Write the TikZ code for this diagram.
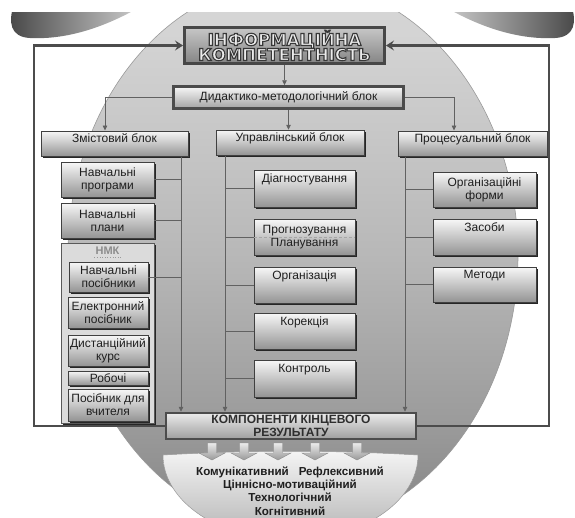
\documentclass[tikz,border=0pt]{standalone}
\usepackage{fontspec}
\setmainfont{Liberation Sans}
\newfontfamily\heavyfont{DejaVu Sans}
\usetikzlibrary{arrows.meta,shadows}
\pgfdeclareverticalshading{ellsh}{100bp}{color(0bp)=(black!74); color(10bp)=(black!64); color(20bp)=(black!53); color(35bp)=(black!39); color(50bp)=(black!28); color(70bp)=(black!17); color(100bp)=(black!10)}
\newcommand\outlinedtext[1]{\special{pdf:literal direct 2 Tr 1.1 w 0.22 G}#1\special{pdf:literal direct 0 Tr}}
\begin{document}
\begin{tikzpicture}[x=1pt,y=-1pt,
  ln/.style={draw=black!62, line width=0.8pt},
  arr/.style={ln, -{Triangle[length=5pt,width=4.5pt]}},
  fb/.style={draw=black!70, line width=2.2pt, -{Stealth[length=8pt,width=10pt,inset=3pt]}},
  blk/.style={rectangle, draw=black!75, line width=0.5pt, top color=black!3, bottom color=black!42,
     drop shadow={shadow xshift=1.8pt, shadow yshift=-1.8pt, fill=black!85, opacity=1},
     font=\fontsize{12}{13}\selectfont, align=center, inner sep=1pt, text=black!88},
  hdr/.style={blk, text height=9pt, text depth=11pt, minimum height=25pt},
  topt/.style={text height=9pt, text depth=21pt},
  lc/.style={blk, minimum width=93pt},
  nm/.style={blk, minimum width=80pt},
  mc/.style={blk, minimum width=101pt},
  rc/.style={blk, minimum width=103pt},
  darr/.pic={\path[draw=black!45, line width=0.4pt, top color=black!8, bottom color=black!40]
     (-4.5,0) -- (4.5,0) -- (4.5,10) -- (13,10) -- (0,17) -- (-13,10) -- (-4.5,10) -- cycle;}
]
\useasboundingbox (0,0) rectangle (575,517);
\begin{scope}
  \clip (0,12) rectangle (575,517);
  % big ellipse
  \path[shading=ellsh, draw=black!40, line width=0.6pt] (293,255) ellipse [x radius=225, y radius=275];
  % wings
  \path[left color=black!72, right color=black!18] (145,4) .. controls (110,25) and (70,40) .. (30,38)
     .. controls (10,37) and (8,22) .. (14,4) -- cycle;
  \path[left color=black!18, right color=black!72] (440,4) .. controls (475,25) and (515,40) .. (555,38)
     .. controls (575,37) and (577,22) .. (571,4) -- cycle;
  % bowl
  \path[draw=black!40, line width=0.5pt, top color=black!4, bottom color=black!30]
     (163,455) .. controls (250,450) and (331,450) .. (418,455)
     arc[start angle=0, end angle=180, x radius=127.5, y radius=85] -- cycle;
\end{scope}
% small arrows
\foreach \xx in {212,244,278,315,357} \pic at (\xx,443) {darr};

% nodes
\node[rectangle, draw=black!72, line width=3pt, top color=black!22, bottom color=black!48,
  minimum width=200pt, minimum height=36pt, inner sep=0pt, align=center,
  font=\heavyfont\bfseries\fontsize{16.5}{15}\selectfont, text=black!8]
  (ik) at (284.5,45.5) {\outlinedtext{ІНФОРМАЦІЙНА}\\\outlinedtext{КОМПЕТЕНТНІСТЬ}};
\node[rectangle, draw=black!70, line width=2.5pt, top color=black!3, bottom color=black!36,
  minimum width=230pt, minimum height=22pt, inner sep=0pt, font=\fontsize{12}{13}\selectfont, text=black!88]
  (did) at (288.5,97.5) {Дидактико-методологічний блок};

\node[hdr, minimum width=147pt] (zm) at (114.5,143.5) {Змістовий блок};
\node[hdr, minimum width=148pt] (upr) at (290,142.5) {Управлінський блок};
\node[hdr, minimum width=149pt] (prc) at (472.5,143.5) {Процесуальний блок};

\node[lc, minimum height=35pt] (np) at (107.5,179.5) {Навчальні\\програми};
\node[lc, minimum height=35pt] (npl) at (107.5,220.5) {Навчальні\\плани};
\node[rectangle, draw=black!65, line width=0.5pt, fill=black!14, minimum width=93pt, minimum height=180pt,
  drop shadow={shadow xshift=1.8pt, shadow yshift=-1.8pt, fill=black!85, opacity=1}] (nmkbox) at (107.5,333) {};
\node[font=\bfseries\fontsize{11}{12}\selectfont, text=black!45, inner sep=1pt] (nmk) at (107.5,251) {НМК};
\draw[black!40, dotted, line width=0.6pt] ([yshift=-1pt]nmk.south west) -- ([yshift=-1pt]nmk.south east);
\node[blk, minimum width=79pt, minimum height=30pt] (nps) at (108.5,277) {Навчальні\\посібники};
\node[nm, minimum height=31pt] (ep) at (108,312.5) {Електронний\\посібник};
\node[nm, minimum height=31pt] (dk) at (108,350.5) {Дистанційний\\курс};
\node[nm, minimum height=14pt, inner sep=0pt] (rb) at (108,378) {Робочі};
\node[nm, minimum height=32pt] (pv) at (108,405) {Посібник для\\вчителя};

\node[mc, topt, minimum height=37pt] (dg) at (304.5,188.5) {Діагностування};
\node[mc, minimum height=36pt] (pp) at (304.5,237) {Прогнозування\\Планування};
\node[mc, topt, minimum height=36pt] (org) at (304.5,285) {Організація};
\node[mc, topt, minimum height=36pt] (kor) at (304.5,331) {Корекція};
\node[mc, topt, minimum height=37pt] (kon) at (304.5,378.5) {Контроль};

\node[rc, minimum height=35pt] (of) at (484.5,189.5) {Організаційні\\форми};
\node[rc, topt, minimum height=36pt] (zs) at (484.5,237) {Засоби};
\node[rc, topt, minimum height=35pt] (mt) at (484.5,284.5) {Методи};

\node[rectangle, draw=black!70, line width=2.5pt, top color=black!8, bottom color=black!38,
  minimum width=250pt, minimum height=26pt, inner sep=0pt, align=center,
  font=\bfseries\fontsize{12}{12.5}\selectfont, text=black!82]
  (komp) at (291,426) {КОМПОНЕНТИ КІНЦЕВОГО\\РЕЗУЛЬТАТУ};

\node[font=\bfseries\fontsize{11.6}{13.4}\selectfont, align=center, text=black!88, inner sep=0pt]
  (res) at (290,491) {Комунікативний\hspace{10pt}Рефлексивний\\Ціннісно-мотиваційний\\Технологічний\\Когнітивний};

% feedback loop
\coordinate (cl) at (34,45.5);
\coordinate (cr) at (549,45.5);
\draw[fb] (komp.west) -| (cl) -- (ik.west);
\draw[fb] (komp.east) -| (cr) -- (ik.east);

% top-down connectors
\draw[arr] (ik.south) -- (ik.south |- did.north);
\coordinate (zmtop) at (105,130.5);
\coordinate (prtop) at (454,130.5);
\draw[arr] (did.west) -| (zmtop);
\draw[arr] (did.east) -| (prtop);
\draw[arr] (did.south) -- (did.south |- upr.north);

% column lines
\coordinate (zl) at (181,156.5);
\coordinate (ul) at (225,155.5);
\coordinate (pl) at (405,156.5);
\draw[arr] (zl) -- (zl |- komp.north);
\draw[arr] (ul) -- (ul |- komp.north);
\draw[arr] (pl) -- (pl |- komp.north);
\foreach \n in {np,npl,nps} \draw[ln] (\n.east) -- (\n.east -| zl);
\foreach \n in {dg,pp,org,kor,kon} \draw[ln] (\n.west) -- (\n.west -| ul);
\foreach \n in {of,zs,mt} \draw[ln] (\n.west) -- (\n.west -| pl);
\draw[black!35, densely dashed, line width=0.5pt] (pp.west) -- (pp.east);
\end{tikzpicture}
\end{document}
